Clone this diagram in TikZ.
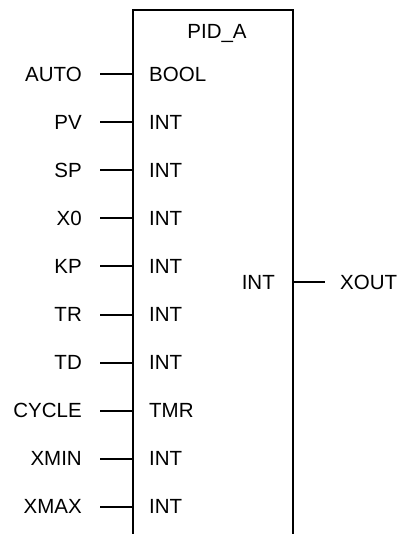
\documentclass[tikz,border=0pt]{standalone}
\usepackage{fontspec}
\setmainfont{Liberation Sans}
\begin{document}
\begin{tikzpicture}[x=1pt,y=-1pt,
  lbl/.style={inner sep=0pt,font=\fontsize{20.5}{24}\selectfont},
  wire/.style={line width=2pt},
  frame/.style={line width=2pt}]
\useasboundingbox (0,0) rectangle (399,534);
\draw[frame] (133,545) -- (133,10) -- (293,10) -- (293,545);
\node[lbl] (title) at (217,33) {PID\_A};
\foreach \n/\t [count=\i from 0] in {AUTO/BOOL,PV/INT,SP/INT,X0/INT,KP/INT,TR/INT,TD/INT,CYCLE/TMR,XMIN/INT,XMAX/INT}{
  \pgfmathsetmacro{\yy}{74+48.1*\i}
  \coordinate (p\i) at (133,\yy);
  \coordinate (q\i) at (100,\yy);
  \node[lbl,anchor=east] (n\i) at (82,\yy) {\n};
  \node[lbl,anchor=west] (t\i) at (149,\yy) {\t};
  \draw[wire] (q\i) -- (p\i);
}
\coordinate (o1) at (293,282);
\coordinate (o2) at (325,282);
\draw[wire] (o1) -- (o2);
\node[lbl,anchor=east] (ot) at (275,282) {INT};
\node[lbl,anchor=west] (xout) at (340,282) {XOUT};
\end{tikzpicture}
\end{document}
